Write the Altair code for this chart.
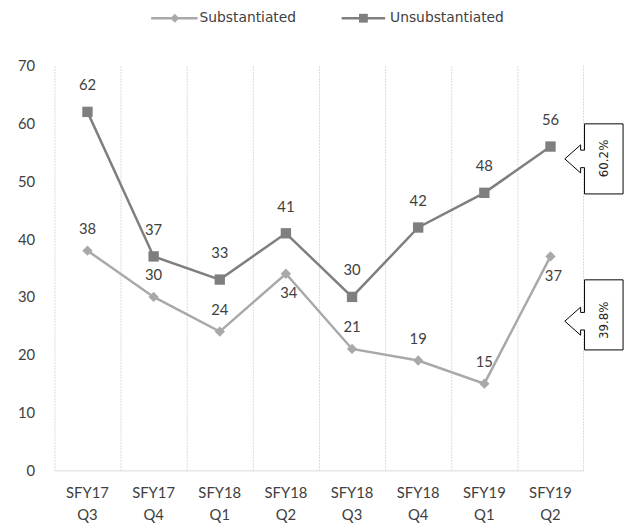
import altair as alt
import pandas as pd

quarters = ["SFY17 Q3", "SFY17 Q4", "SFY18 Q1", "SFY18 Q2", "SFY18 Q3", "SFY18 Q4", "SFY19 Q1", "SFY19 Q2"]
substantiated = [38, 30, 24, 34, 21, 19, 15, 37]
unsubstantiated = [62, 37, 33, 41, 30, 42, 48, 56]
sub_label_pos = ["above", "above", "above", "below", "above", "above", "above", "below"]
unsub_label_pos = ["above"] * 8
callout_texts = ["60.2%", "39.8%"]

SUB_C = "#a9a9a9"
UNSUB_C = "#7f7f7f"
TXT = "#404040"
FONT = "Lato"
W, H = 536, 410

rows = []
for i, q in enumerate(quarters):
    rows.append({"q": q, "series": "Substantiated", "v": substantiated[i], "pos": sub_label_pos[i]})
    rows.append({"q": q, "series": "Unsubstantiated", "v": unsubstantiated[i], "pos": unsub_label_pos[i]})
df = pd.DataFrame(rows)

x = alt.X("q:N", sort=quarters, title=None,
          scale=alt.Scale(type="band", paddingInner=0, paddingOuter=0),
          axis=alt.Axis(bandPosition=0, grid=True, gridColor="#d9d9d9", gridDash=[2, 1],
                        ticks=False, domain=True, domainColor="#d9d9d9", labelAngle=0,
                        labelExpr="split(datum.label, ' ')", labelFontSize=15,
                        labelColor=TXT, labelFont=FONT, labelPadding=15, labelLineHeight=23))
y = alt.Y("v:Q", title=None, scale=alt.Scale(domain=[0, 70]),
          axis=alt.Axis(values=list(range(0, 71, 10)), grid=False, ticks=False, domain=False,
                        labelFontSize=15, labelColor=TXT, labelFont=FONT, labelPadding=20))

base = alt.Chart(df)
color = alt.Color("series:N", scale=alt.Scale(domain=["Substantiated", "Unsubstantiated"],
                                              range=[SUB_C, UNSUB_C]), legend=None)
lines = base.mark_line(strokeWidth=2.5).encode(x=x, y=y, color=color)
sub_pts = base.transform_filter(alt.datum.series == "Substantiated").mark_point(
    shape="diamond", filled=True, size=110, color=SUB_C, opacity=1).encode(x=x, y=y)
unsub_pts = base.transform_filter(alt.datum.series == "Unsubstantiated").mark_point(
    shape="square", filled=True, size=110, color=UNSUB_C, opacity=1).encode(x=x, y=y)

lab_above_u = base.transform_filter(
    (alt.datum.pos == "above") & (alt.datum.series == "Unsubstantiated")).mark_text(
    dy=-27, fontSize=15, font=FONT, color=TXT).encode(x=x, y=y, text="v:Q")
lab_above_s = base.transform_filter(
    (alt.datum.pos == "above") & (alt.datum.series == "Substantiated")).mark_text(
    dy=-22, fontSize=15, font=FONT, color=TXT).encode(x=x, y=y, text="v:Q")
lab_below = base.transform_filter(alt.datum.pos == "below").mark_text(
    dy=20, dx=3, fontSize=15, font=FONT, color=TXT).encode(x=x, y=y, text="v:Q")

right_grid = alt.Chart(pd.DataFrame({"a": [0]})).mark_rule(color="#d9d9d9", strokeDash=[2, 1]).encode(
    x=alt.value(W), y=alt.value(0), y2=alt.value(H))

# legend
leg_df = pd.DataFrame({"name": ["Substantiated"]})
leg_y = -48
LFONT = "DejaVu Sans"
leg = alt.layer(
    alt.Chart(leg_df).mark_rule(color=SUB_C, strokeWidth=2.5).encode(x=alt.value(98), x2=alt.value(145), y=alt.value(leg_y)),
    alt.Chart(leg_df).mark_point(shape="diamond", filled=True, size=80, color=SUB_C, opacity=1).encode(x=alt.value(122), y=alt.value(leg_y)),
    alt.Chart(leg_df).mark_text(align="left", baseline="middle", fontSize=14, font=LFONT, color=TXT).encode(
        x=alt.value(147), y=alt.value(leg_y), text=alt.value("Substantiated")),
    alt.Chart(leg_df).mark_rule(color=UNSUB_C, strokeWidth=2.5).encode(x=alt.value(291), x2=alt.value(335), y=alt.value(leg_y)),
    alt.Chart(leg_df).mark_point(shape="square", filled=True, size=80, color=UNSUB_C, opacity=1).encode(x=alt.value(313), y=alt.value(leg_y)),
    alt.Chart(leg_df).mark_text(align="left", baseline="middle", fontSize=14, font=LFONT, color=TXT).encode(
        x=alt.value(340), y=alt.value(leg_y), text=alt.value("Unsubstantiated")),
)

# callouts
def callout_path(off):
    n1, n2 = off - 0.25, off + 0.25
    h1, h2 = off - 0.40, off + 0.40
    return (f"M-0.268,-1 L0.831,-1 L0.831,1 L-0.268,1 L-0.268,{n2:.3f} L-0.380,{n2:.3f} "
            f"L-0.380,{h2:.3f} L-0.831,{off:.3f} L-0.380,{h1:.3f} L-0.380,{n1:.3f} L-0.268,{n1:.3f} Z")

cdf = pd.DataFrame({"t": callout_texts})
cx = 601.5 - 55
callouts = alt.layer(
    alt.Chart(cdf).transform_filter(alt.datum.t == callout_texts[0]).mark_point(
        shape=callout_path(0.0), size=71 * 71, filled=True, fill="white", stroke="black",
        strokeWidth=1, opacity=1).encode(x=alt.value(cx), y=alt.value(157.5 - 63)),
    alt.Chart(cdf).transform_filter(alt.datum.t == callout_texts[1]).mark_point(
        shape=callout_path(0.18), size=71 * 71, filled=True, fill="white", stroke="black",
        strokeWidth=1, opacity=1).encode(x=alt.value(cx), y=alt.value(315.5 - 63)),
    alt.Chart(cdf).transform_filter(alt.datum.t == callout_texts[0]).mark_text(
        angle=270, fontSize=12, font="DejaVu Sans", color="#262626", baseline="middle").encode(
        x=alt.value(612 - 55), y=alt.value(157 - 63), text="t:N"),
    alt.Chart(cdf).transform_filter(alt.datum.t == callout_texts[1]).mark_text(
        angle=270, fontSize=12, font="DejaVu Sans", color="#262626", baseline="middle").encode(
        x=alt.value(612 - 55), y=alt.value(321 - 63), text="t:N"),
)

chart = alt.layer(right_grid, lines, sub_pts, unsub_pts, lab_above_u, lab_above_s, lab_below, leg, callouts).properties(
    width=W, height=H,
    autosize=alt.AutoSizeParams(type="none"),
    padding={"left": 47, "top": 55, "right": 44, "bottom": 54},
    background="white",
).configure_view(stroke=None)

chart.save("out.html", embed_options={"renderer": "svg", "actions": False})
